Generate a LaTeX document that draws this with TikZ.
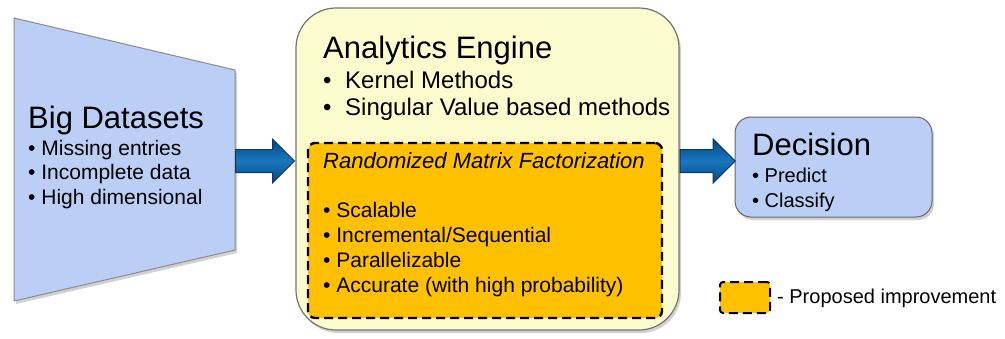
\documentclass[tikz,border=0pt]{standalone}
\usepackage{fontspec}
\setmainfont{Liberation Sans}
\usetikzlibrary{shapes,arrows}
\usetikzlibrary{positioning}
\usetikzlibrary{shadows,calc}
\definecolor{dataBlue}{RGB}{186,206,246}
\definecolor{engineYellow}{RGB}{253,252,207}
\definecolor{rmfOrange}{RGB}{255,192,0}
\definecolor{arrowBlue}{RGB}{0,104,184}
\definecolor{arrowEdge}{RGB}{20,52,100}
\newcommand{\dghead}{\fontsize{31}{36}\selectfont}
\newcommand{\dgitem}{\fontsize{21}{24.5}\selectfont}
\tikzstyle{softshadow} = [drop shadow={shadow xshift=2pt, shadow yshift=-3pt, opacity=.3, fill=black!60}]
\tikzstyle{datashape} = [draw=black!45, fill=dataBlue, line width=1pt, softshadow]
\tikzstyle{engine} = [rectangle, rounded corners=40pt, draw=black!55, fill=engineYellow, line width=1.2pt,
minimum width=383pt, minimum height=322pt, softshadow]
\tikzstyle{rmf} = [rectangle, rounded corners=7pt, draw=black, fill=rmfOrange, line width=2.4pt,
dash pattern=on 9pt off 5pt, minimum width=354pt, minimum height=175pt]
\tikzstyle{decision} = [rectangle, rounded corners=16pt, draw=black!60, fill=dataBlue, line width=1pt,
minimum width=197pt, minimum height=100pt, softshadow]
\tikzstyle{head} = [anchor=base west, inner sep=0pt, font=\dghead]
% lists are placed by the baseline of their last line
\tikzstyle{items} = [anchor=base west, inner sep=0pt, align=left, font=\dgitem]
\tikzstyle{bigarrow} = [single arrow, draw=arrowEdge, line width=1pt, inner xsep=0pt, inner ysep=11pt,
single arrow head extend=10.5pt, shape border rotate=0, pos=0, anchor=tail,
top color=arrowBlue!70!black, bottom color=arrowBlue!70!black, middle color=arrowBlue!90!white]

\begin{document}
\begin{tikzpicture}[x=1pt, y=-1pt]
	\useasboundingbox (0,0) rectangle (1005,338);
	%% Big datasets
	\draw [datashape] (14,18) -- (235,70) -- (235,250) -- (14,301) -- cycle;
	\coordinate (dataR) at (235,161);
	\node [head] (dataT) at (28,128) {Big Datasets};
	\node [items] (dataL) at (28,204) {• Missing entries\\• Incomplete data\\• High dimensional};
	%% Analytics engine
	\node [engine] (engine) at (487.5,169) {};
	\node [head] (engT) at (323,58) {Analytics Engine};
	\node [items, font=\fontsize{24}{27}\selectfont] (engL) at (323,115)
		{\makebox[22pt][l]{•}Kernel Methods\\\makebox[22pt][l]{•}Singular Value based methods};
	\node [rmf] (rmf) at (485,230.5) {};
	\node [items, font=\fontsize{22}{25}\selectfont\itshape] (rmfT) at (323,168) {Randomized Matrix Factorization};
	\node [items, font=\fontsize{21}{25}\selectfont] (rmfL) at (323,292)
		{• Scalable\\• Incremental/Sequential\\• Parallelizable\\• Accurate (with high probability)};
	%% Decision
	\node [decision] (dec) at (833.5,167) {};
	\node [head] (decT) at (752,155) {Decision};
	\node [items, font=\fontsize{20}{25}\selectfont] (decL) at (752,207) {• Predict\\• Classify};
	%% Flows
	\path (dataR) -- node [bigarrow, minimum height=59pt] (arr1) {} (dataR -| engine.west);
	\path (engine.east |- dataR) -- node [bigarrow, minimum height=55pt] (arr2) {} (dec.west |- dataR);
	%% Legend
	\node [rmf, line width=2pt, minimum width=50pt, minimum height=31pt, rounded corners=3pt] (key) at (745,297.5) {};
	\node [items, font=\fontsize{20}{24}\selectfont] (keyT) at (777,303) {- Proposed improvement};
\end{tikzpicture}
\end{document}
